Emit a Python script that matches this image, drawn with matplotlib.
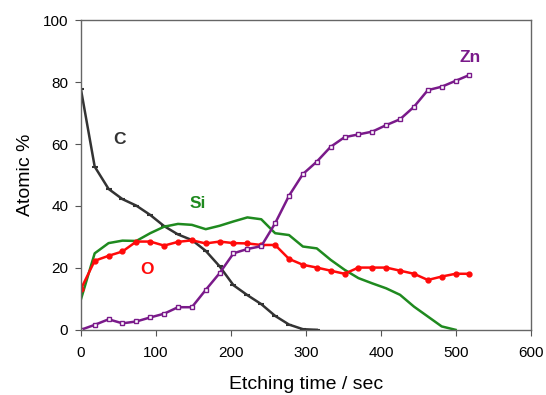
import matplotlib
matplotlib.use("Agg")
import matplotlib.pyplot as plt

plt.rcParams['font.family'] = ['Liberation Sans', 'DejaVu Sans']

# etching times (sec)
t = [0, 18.5, 37, 55.5, 74, 92.5, 111, 129.5, 148, 166.5, 185, 203.5, 222, 240.5,
     259, 277.5, 296, 314.5, 333, 351.5, 370, 388.5, 407, 425.5, 444, 462.5, 481, 499.5, 518]

zn = [0, 1.6, 3.4, 2.1, 2.7, 4, 5.2, 7.3, 7.3, 12.9, 18.3, 24.7, 26.1, 27.0, 34.4,
      43.3, 50.3, 54.3, 59.1, 62.2, 63.1, 64, 66.1, 68, 72, 77.4, 78.5, 80.4, 82.3]
o = [13.1, 22.3, 23.9, 25.3, 28.5, 28.5, 27.2, 28.4, 28.9, 27.9, 28.5, 28, 27.9, 27.4,
     27.4, 22.9, 21, 20.1, 19.1, 18.1, 20.1, 20.1, 20.1, 19.1, 18.1, 16.1, 17.2, 18.1, 18.1]
si = [9.7, 24.7, 28, 28.8, 28.7, 31.2, 33.3, 34.2, 33.9, 32.5, 33.6, 35, 36.3, 35.7,
      31.2, 30.6, 26.9, 26.3, 22.6, 19.4, 16.7, 15, 13.4, 11.3, 7.5, 4.3, 1.1, 0]
c = [77.9, 52.7, 45.5, 42.2, 40.1, 37.1, 33.5, 30.8, 29, 25.5, 20.5, 14.4, 11.2, 8.3,
     4.5, 1.7, 0.2, 0]

fig = plt.figure(figsize=(5.46, 3.95), dpi=100)
ax = fig.add_axes([0.148, 0.165, 0.8245, 0.784])

purple = '#7a1a8a'
red = '#ff0a0a'
green = '#1f8a1f'
grey = '#333333'

ax.plot(t[:len(c)], c, color=grey, lw=1.8, marker='_', ms=5, mew=1.5)
ax.plot(t[:len(si)], si, color=green, lw=1.8)
ax.plot(t, o, color=red, lw=1.8, marker='o', ms=3.5)
ax.plot(t, zn, color=purple, lw=1.8, marker='s', ms=3.5, mfc='white', mew=1)

ax.text(52, 61.3, 'C', color=grey, fontsize=12.5, fontweight='bold', ha='center', va='center')
ax.text(156, 40.9, 'Si', color=green, fontsize=12.5, fontweight='bold', ha='center', va='center')
ax.text(88, 19.4, 'O', color=red, fontsize=12.5, fontweight='bold', ha='center', va='center')
ax.text(519, 88, 'Zn', color=purple, fontsize=12.5, fontweight='bold', ha='center', va='center')

ax.set_xlim(0, 600)
ax.set_ylim(0, 100)
ax.set_xticks(range(0, 601, 100))
ax.set_yticks(range(0, 101, 20))
ax.tick_params(labelsize=11, direction='out', length=4, color='#555555')
ax.tick_params(axis='x', pad=8)
ax.tick_params(axis='y', pad=5)
for s in ax.spines.values():
    s.set_color('#666666')
    s.set_linewidth(1)
ax.set_xlabel('Etching time / sec', fontsize=14, labelpad=11)
ax.set_ylabel('Atomic %', fontsize=14, labelpad=6)

fig.savefig('out.png', dpi=100)
